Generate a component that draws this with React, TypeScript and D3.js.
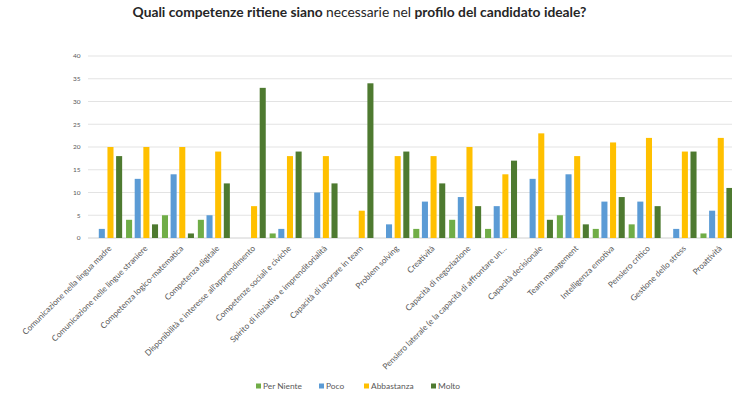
import React from "react";
import * as d3 from "d3";

const categories = [
  "Comunicazione nella lingua madre",
  "Comunicazione nelle lingue straniere",
  "Competenza logico-matematica",
  "Competenza digitale",
  "Disponibilità e interesse all'apprendimento",
  "Competenze sociali e civiche",
  "Spirito di iniziativa e imprenditorialità",
  "Capacità di lavorare in team",
  "Problem solving",
  "Creatività",
  "Capacità di negoziazione",
  "Pensiero laterale (e la capacità di affrontare un…",
  "Capacità decisionale",
  "Team management",
  "Intelligenza emotiva",
  "Pensiero critico",
  "Gestione dello stress",
  "Proattività",
];

const seriesNames = ["Per Niente", "Poco", "Abbastanza", "Molto"];
const perNiente = [0, 4, 5, 4, 0, 1, 0, 0, 0, 2, 4, 2, 0, 5, 2, 3, 0, 1];
const poco = [2, 13, 14, 5, 0, 2, 10, 0, 3, 8, 9, 7, 13, 14, 8, 8, 2, 6];
const abbastanza = [20, 20, 20, 19, 7, 18, 18, 6, 18, 18, 20, 14, 23, 18, 21, 22, 19, 22];
const molto = [18, 3, 1, 12, 33, 19, 12, 34, 19, 12, 7, 17, 4, 3, 9, 7, 19, 11];
const yTicks = [0, 5, 10, 15, 20, 25, 30, 35, 40];
const colors = ["#70AD47", "#5B9BD5", "#FFC000", "#4E7A30"];

const W = 732;
const H = 397;

export default function App() {
  const series = [perNiente, poco, abbastanza, molto];
  const x = d3.scaleBand<string>().domain(categories).range([88.2, 734.4]).paddingInner(0).paddingOuter(0);
  const inner = d3.scaleBand<string>().domain(seriesNames).range([1.95, 33.95]).paddingInner(0.3).paddingOuter(0);
  const y = d3.scaleLinear().domain([0, 40]).range([238, 56]);
  const font = "Lato, 'Open Sans', sans-serif";

  const legendX = [256, 319, 364, 431];

  return (
    <svg width={W} height={H} style={{ position: "absolute", left: 0, top: 0, background: "#fff" }}>
      <rect x={0} y={0} width={W} height={H} fill="#fff" />
      <text x={359.5} y={17} textAnchor="middle" fontFamily={font} fontSize={13.8} fill="#262626">
        <tspan fontWeight="bold">Quali competenze ritiene siano </tspan>
        <tspan fontWeight="normal">necessarie nel </tspan>
        <tspan fontWeight="bold">profilo del candidato ideale?</tspan>
      </text>
      {yTicks.map((t) => (
        <g key={t}>
          <line x1={88} x2={W} y1={y(t)} y2={y(t)} stroke={t === 0 ? "#D0D0D0" : "#E3E3E3"} strokeWidth={1} />
          <text x={80.5} y={y(t) + 2.3} textAnchor="end" fontFamily={font} fontSize={6.5} fill="#595959">
            {t}
          </text>
        </g>
      ))}
      {categories.map((c, i) => (
        <g key={c} transform={`translate(${x(c)},0)`}>
          {series.map((s, j) => (
            <rect
              key={j}
              x={inner(seriesNames[j])}
              y={y(s[i])}
              width={inner.bandwidth()}
              height={y(0) - y(s[i])}
              fill={colors[j]}
            />
          ))}
        </g>
      ))}
      {categories.map((c) => {
        const cx = (x(c) as number) + x.bandwidth() / 2 + 6;
        return (
          <text
            key={c}
            transform={`translate(${cx},249) rotate(-45)`}
            textAnchor="end"
            fontFamily={font}
            fontSize={8.2}
            fill="#595959"
          >
            {c}
          </text>
        );
      })}
      {seriesNames.map((n, j) => (
        <g key={n}>
          <rect x={legendX[j]} y={383.5} width={5} height={5} fill={colors[j]} />
          <text x={legendX[j] + 7} y={388.5} fontFamily={font} fontSize={8.4} fill="#595959">
            {n}
          </text>
        </g>
      ))}
    </svg>
  );
}
